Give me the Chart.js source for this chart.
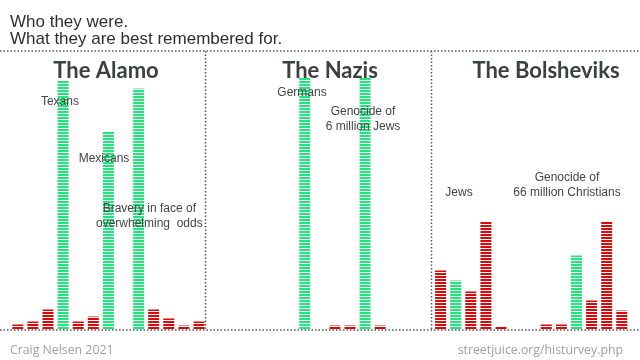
<!DOCTYPE html>
<html>
<head>
<meta charset="utf-8">
<script src="https://cdn.jsdelivr.net/npm/chart.js@4"></script>
<style>
  html, body { margin: 0; padding: 0; background: #fff; }
  #wrap { width: 640px; height: 360px; position: relative; }
</style>
</head>
<body>
<div id="wrap"><canvas id="chart"></canvas></div>
<script>
// 41 bar slots across the three panels (0-12 Alamo, 13-27 Nazis, 28-40 Bolsheviks)
const slots = Array.from({length: 41}, (_, i) => i);

// bar heights
const barValues = [
  5, 8, 20, 249, 8, 13, 198, 0, 241, 20, 11, 4, 8,
  0, 0, 0, 0, 0, 0, 252, 0, 4, 4, 252, 4, 0, 0, 0,
  59, 49, 38, 108, 3, 0, 0, 5, 5, 74, 29, 108, 19
];

// which bars are green (everything else red)
const greenBars = [3, 6, 8, 19, 23, 29, 37];

const panelTitles = ["The Alamo", "The Nazis", "The Bolsheviks"];
const panelTitleX = [106, 330, 546];

// annotation text: lines, slot position, value position
const notes = [
  { lines: ["Texans"], slot: 2.79, y: 228 },
  { lines: ["Mexicans"], slot: 5.71, y: 170.5 },
  { lines: ["Bravery in face of", "overwhelming  odds"], slot: 8.71, y: 120.5 },
  { lines: ["Germans"], slot: 18.82, y: 236.8 },
  { lines: ["Genocide of", "6 million Jews"], slot: 22.86, y: 217.5 },
  { lines: ["Jews"], slot: 29.22, y: 137.2 },
  { lines: ["Genocide of", "66 million Christians"], slot: 36.37, y: 151.8 }
];

function stripes(color) {
  const c = document.createElement('canvas');
  c.width = 4; c.height = 3;
  const g = c.getContext('2d');
  g.fillStyle = '#ffffff';
  g.fillRect(0, 0, 4, 3);
  g.fillStyle = color;
  g.fillRect(0, 0, 4, 2);
  return g.createPattern(c, 'repeat');
}
const greenFill = stripes('#1fe67a');
const redFill = stripes('#d60a0a');

function dotted(ctx, x1, y1, x2, y2) {
  ctx.save();
  ctx.strokeStyle = '#555';
  ctx.lineWidth = 1.5;
  ctx.setLineDash([1.5, 2]);
  ctx.beginPath();
  ctx.moveTo(x1, y1);
  ctx.lineTo(x2, y2);
  ctx.stroke();
  ctx.restore();
}

const decor = {
  id: 'decor',
  afterDatasetsDraw(chart) {
    const ctx = chart.ctx;
    const x = chart.scales.x, y = chart.scales.y;
    const half = (x.getPixelForValue(1) - x.getPixelForValue(0)) / 2;

    // frame
    dotted(ctx, 0, 51, 640, 51);
    dotted(ctx, 0, 330, 640, 330);
    [12, 27].forEach(i => {
      const px = Math.round(x.getPixelForValue(i) + half) - 1.5;
      dotted(ctx, px, 51, px, 330);
    });

    // header
    ctx.save();
    ctx.fillStyle = '#2e2e2e';
    ctx.font = '17px "Liberation Sans", Arial, sans-serif';
    ctx.textBaseline = 'alphabetic';
    ctx.textAlign = 'left';
    ctx.fillText('Who they were.', 10, 26.5);
    ctx.fillText('What they are best remembered for.', 10, 43.5);

    // panel titles
    ctx.fillStyle = '#3b4040';
    ctx.font = 'bold 22px Lato, sans-serif';
    ctx.textAlign = 'center';
    panelTitles.forEach((t, i) => ctx.fillText(t, panelTitleX[i], 78));

    // notes
    ctx.fillStyle = '#444';
    ctx.font = '12px "Liberation Sans", Arial, sans-serif';
    ctx.textBaseline = 'middle';
    notes.forEach(n => {
      const px = x.getPixelForValue(n.slot);
      const py = y.getPixelForValue(n.y);
      n.lines.forEach((l, k) => ctx.fillText(l, px, py + k * 14.5));
    });

    // footer
    ctx.fillStyle = '#a0a0a0';
    ctx.font = '12.3px "Open Sans", sans-serif';
    ctx.textBaseline = 'alphabetic';
    ctx.textAlign = 'left';
    ctx.fillText('Craig Nelsen 2021', 10, 354);
    ctx.textAlign = 'right';
    ctx.fillText('streetjuice.org/histurvey.php', 623, 354);
    ctx.restore();
  }
};

new Chart(document.getElementById('chart'), {
  type: 'bar',
  data: {
    labels: slots,
    datasets: [{
      data: barValues,
      backgroundColor: slots.map(i => greenBars.includes(i) ? greenFill : redFill),
      borderWidth: 0,
      barPercentage: 0.9,
      categoryPercentage: 0.81
    }]
  },
  options: {
    responsive: true,
    maintainAspectRatio: false,
    animation: false,
    layout: { padding: { left: 10.25, right: 10.65, top: 69.5, bottom: 30.5 } },
    plugins: { legend: { display: false }, tooltip: { enabled: false } },
    scales: {
      x: { display: false },
      y: { display: false, min: 0, max: 260 }
    }
  },
  plugins: [decor]
});
</script>
</body>
</html>
